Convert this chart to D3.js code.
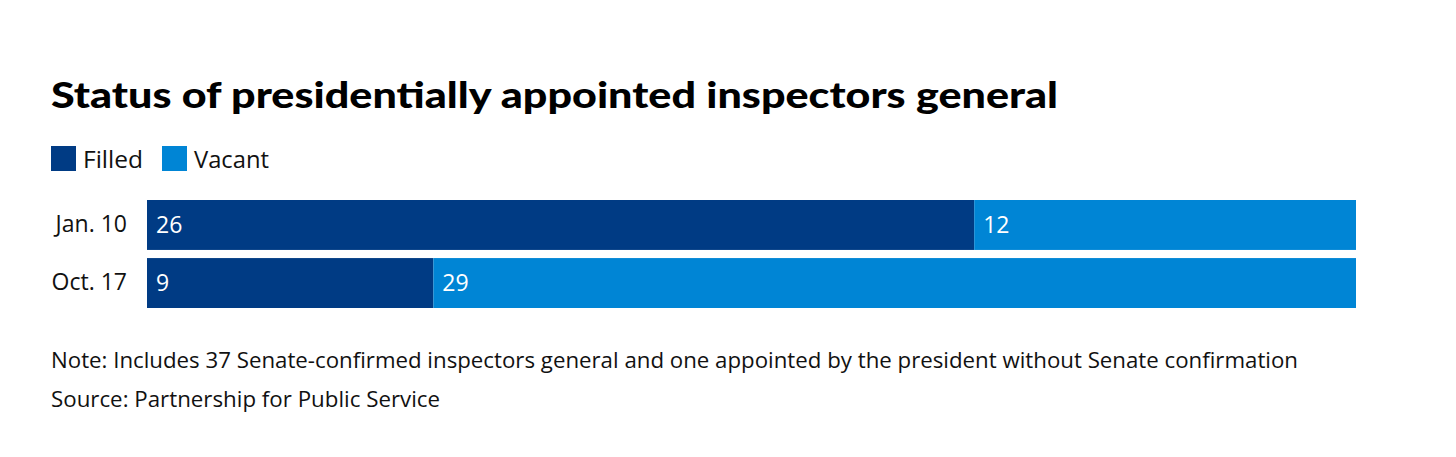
<!DOCTYPE html>
<html>
<head>
<meta charset="utf-8">
<script src="https://cdn.jsdelivr.net/npm/d3@7"></script>
<style>
  body { margin: 0; background: #fff; }
  svg text { font-family: "Open Sans", Lato, sans-serif; }
</style>
</head>
<body>
<div id="chart"></div>
<script>
// data
var categories = ['Jan. 10', 'Oct. 17'];
var filled = [26, 9];
var vacant = [12, 29];
var seriesNames = ['Filled', 'Vacant'];
var colors = ['#003b84', '#0085d5'];

var W = 1456, H = 457;
var margin = { top: 200, right: 100, bottom: 149, left: 147 };
var width = W - margin.left - margin.right;
var height = H - margin.top - margin.bottom;

var svg = d3.select('#chart').append('svg')
  .attr('width', W)
  .attr('height', H);

// title
svg.append('text')
  .attr('x', 51).attr('y', 108)
  .style('font-family', 'Lato, sans-serif')
  .style('font-weight', 900)
  .style('font-size', '36px')
  .attr('fill', '#000')
  .attr('textLength', 1007).attr('lengthAdjust', 'spacingAndGlyphs')
  .text('Status of presidentially appointed inspectors general');

// legend
var legend = svg.append('g').attr('transform', 'translate(51,146)');
var legendX = [0, 111];
var legendW = [60, 75];
seriesNames.forEach(function(name, i) {
  var lg = legend.append('g').attr('transform', 'translate(' + legendX[i] + ',0)');
  lg.append('rect').attr('width', 25).attr('height', 25).attr('fill', colors[i]);
  lg.append('text').attr('x', 32).attr('y', 22)
    .style('font-size', '24px').attr('fill', '#111')
    .attr('textLength', legendW[i]).attr('lengthAdjust', 'spacingAndGlyphs')
    .text(name);
});

// stack the data
var rows = categories.map(function(c, i) {
  return { cat: c, Filled: filled[i], Vacant: vacant[i] };
});
var stack = d3.stack().keys(seriesNames)(rows);

var x = d3.scaleLinear()
  .domain([0, d3.max(rows, function(d) { return d.Filled + d.Vacant; })])
  .range([0, width]);
var y = d3.scaleBand()
  .domain(categories)
  .range([0, height])
  .paddingInner(0.14)
  .paddingOuter(0);

var g = svg.append('g')
  .attr('transform', 'translate(' + margin.left + ',' + margin.top + ')');

var layers = g.selectAll('.layer')
  .data(stack)
  .enter().append('g')
  .attr('class', 'layer')
  .attr('fill', function(d, i) { return colors[i]; });

layers.selectAll('rect')
  .data(function(d) { return d; })
  .enter().append('rect')
  .attr('x', function(d) { return x(d[0]); })
  .attr('y', function(d) { return y(d.data.cat); })
  .attr('width', function(d) { return x(d[1]) - x(d[0]); })
  .attr('height', y.bandwidth());

layers.selectAll('text')
  .data(function(d) { return d; })
  .enter().append('text')
  .attr('x', function(d) { return x(d[0]) + 9; })
  .attr('y', function(d) { return y(d.data.cat) + y.bandwidth() / 2; })
  .attr('dy', '0.36em')
  .attr('fill', '#fff')
  .style('font-size', '23px')
  .text(function(d) { return d[1] - d[0]; });

// category axis
var yAxis = g.append('g')
  .call(d3.axisLeft(y).tickSize(0).tickPadding(20));
yAxis.select('.domain').remove();
yAxis.selectAll('text')
  .style('font-family', '"Open Sans", Lato, sans-serif')
  .style('font-size', '23px')
  .attr('fill', '#111');

// footnotes
svg.append('text')
  .attr('x', 51).attr('y', 368)
  .style('font-size', '21px').attr('fill', '#111')
  .attr('textLength', 1247).attr('lengthAdjust', 'spacingAndGlyphs')
  .text('Note: Includes 37 Senate-confirmed inspectors general and one appointed by the president without Senate confirmation');
svg.append('text')
  .attr('x', 51).attr('y', 407)
  .style('font-size', '21px').attr('fill', '#111')
  .attr('textLength', 389).attr('lengthAdjust', 'spacingAndGlyphs')
  .text('Source: Partnership for Public Service');
</script>
</body>
</html>
